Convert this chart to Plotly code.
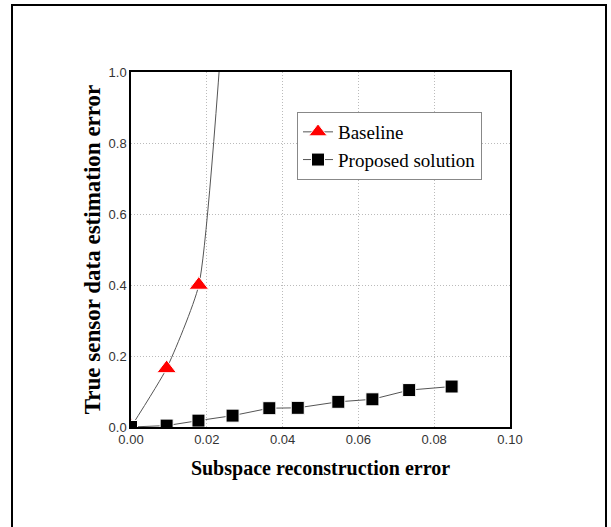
import plotly.graph_objects as go

# Data
baseline_x = [0.0, 0.0094, 0.0179, 0.0265]
baseline_y = [0.0, 0.165, 0.40, 1.5]

proposed_x = [0.0, 0.0094, 0.0178, 0.0268, 0.0365, 0.0440, 0.0547, 0.0637, 0.0734, 0.0846]
proposed_y = [0.0, 0.004, 0.018, 0.032, 0.053, 0.054, 0.071, 0.078, 0.104, 0.114]

x_ticks = [0.00, 0.02, 0.04, 0.06, 0.08, 0.10]
y_ticks = [0.0, 0.2, 0.4, 0.6, 0.8, 1.0]

x_title = "Subspace reconstruction error"
y_title = "True sensor data estimation error"

fig = go.Figure()
fig.add_trace(go.Scatter(
    x=baseline_x, y=baseline_y, name="Baseline", mode="lines+markers",
    line=dict(color="#555555", width=1, shape="spline", smoothing=0.5),
    marker=dict(symbol="triangle-up", size=17, color="#ff0000",
                line=dict(color="white", width=1)),
))
fig.add_trace(go.Scatter(
    x=proposed_x, y=proposed_y, name="Proposed solution", mode="lines+markers",
    line=dict(color="#555555", width=1),
    marker=dict(symbol="square", size=13, color="#000000",
                line=dict(color="white", width=1)),
))

L, R, T, B = 131, 510, 72, 427
W, H = 611, 527
pw, ph = R - L, B - T


def px(x):
    return (x - L) / pw


def py(y):
    return (B - y) / ph


fig.add_shape(type="rect", xref="paper", yref="paper",
              x0=px(12), x1=px(606), y0=py(535), y1=py(5),
              line=dict(color="black", width=2), layer="above")

fig.update_layout(
    width=W, height=H,
    margin=dict(l=L, r=W - R, t=T, b=H - B),
    paper_bgcolor="white", plot_bgcolor="white",
    showlegend=True,
    legend=dict(x=px(297), y=py(112), xanchor="left", yanchor="top",
                bordercolor="#888888", borderwidth=1, bgcolor="white",
                font=dict(family="Liberation Serif", size=19, color="black"),
                tracegroupgap=0, itemwidth=30),
    xaxis=dict(range=[0, 0.10], tickvals=x_ticks, tickformat=".2f",
               showline=True, linecolor="black", linewidth=1.5, mirror=True,
               showgrid=True, gridcolor="#bbbbbb", griddash="1px,2px", gridwidth=1,
               zeroline=False, ticks="",
               tickfont=dict(family="Liberation Sans", size=13, color="#333333"),
               title=dict(text=x_title, standoff=15,
                          font=dict(family="Liberation Serif", size=20, color="black", weight="bold"))),
    yaxis=dict(range=[0, 1.0], tickvals=y_ticks, tickformat=".1f",
               showline=True, linecolor="black", linewidth=1.5, mirror=True,
               showgrid=True, gridcolor="#bbbbbb", griddash="1px,2px", gridwidth=1,
               zeroline=False, ticks="",
               tickfont=dict(family="Liberation Sans", size=13, color="#333333"),
               title=dict(text=y_title, standoff=2,
                          font=dict(family="Liberation Serif", size=23, color="black", weight="bold"))),
)

fig.write_html("out.html", config={"displayModeBar": False},
               post_script="document.body.style.margin='0';")
